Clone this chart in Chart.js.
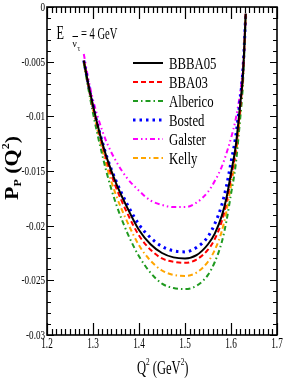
<!DOCTYPE html>
<html>
<head>
<meta charset="utf-8">
<script src="https://cdn.jsdelivr.net/npm/chart.js@4/dist/chart.umd.min.js"></script>
<style>
  body { margin: 0; background: #fff; }
  canvas { display: block; }
</style>
</head>
<body>
<canvas id="my-chart" width="284" height="382"></canvas>
<script>
// Q^2 points (GeV^2) and polarization values
const q2 = [1.28, 1.29, 1.30, 1.31, 1.32, 1.33, 1.35, 1.375, 1.40, 1.425, 1.45, 1.475,
  1.50, 1.525, 1.55, 1.565, 1.58, 1.59, 1.60, 1.61, 1.62, 1.625, 1.628, 1.632];

const bbba05 = [-0.0049, -0.0071, -0.0090, -0.0108, -0.0124, -0.0138, -0.0161, -0.0184, -0.0204, -0.0217, -0.0225, -0.0229,
  -0.0230, -0.0227, -0.0217, -0.0207, -0.0191, -0.0175, -0.0152, -0.0128, -0.0089, -0.0067, -0.0045, -0.0006];
const bba03 = [-0.0049, -0.0071, -0.0091, -0.0109, -0.0126, -0.0141, -0.0165, -0.0189, -0.0209, -0.0222, -0.0230, -0.0233,
  -0.0234, -0.0231, -0.0222, -0.0212, -0.0196, -0.0179, -0.0156, -0.0132, -0.0092, -0.0069, -0.0046, -0.0006];
const alberico = [-0.0051, -0.0075, -0.0097, -0.0117, -0.0135, -0.0152, -0.0180, -0.0207, -0.0228, -0.0243, -0.0253, -0.0257,
  -0.0258, -0.0255, -0.0245, -0.0233, -0.0215, -0.0196, -0.0171, -0.0145, -0.0102, -0.0077, -0.0051, -0.0006];
const bosted = [-0.0049, -0.0071, -0.0090, -0.0108, -0.0123, -0.0137, -0.0159, -0.0181, -0.0199, -0.0211, -0.0219, -0.0223,
  -0.0224, -0.0220, -0.0210, -0.0198, -0.0181, -0.0164, -0.0142, -0.0119, -0.0084, -0.0063, -0.0043, -0.0006];
const galster = [-0.0043, -0.0066, -0.0085, -0.0100, -0.0113, -0.0124, -0.0141, -0.0157, -0.0168, -0.0177, -0.0181, -0.0183,
  -0.0183, -0.0179, -0.0169, -0.0159, -0.0146, -0.0134, -0.0120, -0.0103, -0.0078, -0.0060, -0.0044, -0.0006];
const kelly = [-0.0050, -0.0073, -0.0094, -0.0113, -0.0130, -0.0146, -0.0172, -0.0197, -0.0218, -0.0232, -0.0241, -0.0245,
  -0.0246, -0.0243, -0.0233, -0.0222, -0.0205, -0.0187, -0.0163, -0.0138, -0.0097, -0.0073, -0.0048, -0.0006];

const seriesNames = ["BBBA05", "BBA03", "Alberico", "Bosted", "Galster", "Kelly"];
const xTicks = [1.2, 1.3, 1.4, 1.5, 1.6, 1.7];
const yTicks = [0, -0.005, -0.01, -0.015, -0.02, -0.025, -0.03];

const serif = "'Liberation Serif', 'Times New Roman', serif";
const SQ = 0.66; // the original figure's text is squeezed sideways

function pts(values) {
  return q2.map((q, i) => ({ x: q, y: values[i] }));
}

function squeezedText(ctx, text, x, y, size, opts = {}) {
  ctx.save();
  ctx.translate(x, y);
  ctx.scale(opts.sx || SQ, 1);
  ctx.font = (opts.bold ? "bold " : "") + size + "px " + serif;
  ctx.textAlign = opts.align || "left";
  ctx.textBaseline = opts.baseline || "alphabetic";
  ctx.fillStyle = "#000";
  ctx.fillText(text, 0, 0);
  const w = ctx.measureText(text).width * (opts.sx || SQ);
  ctx.restore();
  return w;
}

// frame, inward ticks, tick labels, titles, legend, annotation
const decorations = {
  id: "decorations",
  afterDatasetsDraw(chart) {
    const { ctx, chartArea: a, scales: { x, y } } = chart;
    ctx.save();
    ctx.strokeStyle = "#000";
    ctx.lineWidth = 1.2;
    for (let i = 0; i <= 50; i++) {
      const px = Math.round(x.getPixelForValue(1.2 + i * 0.01)) + 0.5;
      const len = i % 10 === 0 ? 12 : 6;
      ctx.beginPath();
      ctx.moveTo(px, a.bottom); ctx.lineTo(px, a.bottom - len);
      ctx.moveTo(px, a.top); ctx.lineTo(px, a.top + len);
      ctx.stroke();
    }
    for (let i = 0; i <= 30; i++) {
      const py = Math.round(y.getPixelForValue(-i * 0.001)) + 0.5;
      const len = i % 5 === 0 ? 7 : 4;
      ctx.beginPath();
      ctx.moveTo(a.left, py); ctx.lineTo(a.left + len, py);
      ctx.moveTo(a.right, py); ctx.lineTo(a.right - len, py);
      ctx.stroke();
    }
    ctx.lineWidth = 1.6;
    ctx.strokeRect(a.left, a.top, a.right - a.left, a.bottom - a.top);
    ctx.restore();

    // tick labels
    xTicks.forEach((v) => {
      squeezedText(ctx, v.toFixed(1), x.getPixelForValue(v), a.bottom + 13, 14, { align: "center" });
    });
    yTicks.forEach((v) => {
      const label = v === 0 ? "0" : String(parseFloat(v.toFixed(3)));
      squeezedText(ctx, label, a.left - 2, y.getPixelForValue(v) + 4, 13, { align: "right", sx: 0.7 });
    });

    // x title: Q^2 (GeV^2)
    let cx = 137;
    const base = 374;
    cx += squeezedText(ctx, "Q", cx, base, 19);
    cx += squeezedText(ctx, "2", cx, base - 9, 11);
    cx += squeezedText(ctx, " (GeV", cx, base, 19);
    cx += squeezedText(ctx, "2", cx, base - 9, 11);
    squeezedText(ctx, ")", cx, base, 19);

    // y title: P_P (Q^2), rotated
    ctx.save();
    ctx.translate(18, (a.top + a.bottom) / 2 - 3);
    ctx.rotate(-Math.PI / 2);
    ctx.fillStyle = "#000";
    ctx.textBaseline = "alphabetic";
    const parts = [["P", 22, 0], ["P", 12, 3], [" (Q", 22, 0], ["2", 12, -10], [")", 22, 0]];
    let total = 0;
    parts.forEach(([t, s]) => { ctx.font = "bold " + s + "px " + serif; total += ctx.measureText(t).width; });
    let lx = -total / 2;
    ctx.scale(1, 0.9);
    parts.forEach(([t, s, dy]) => {
      ctx.font = "bold " + s + "px " + serif;
      ctx.fillText(t, lx, dy);
      lx += ctx.measureText(t).width;
    });
    ctx.restore();

    // legend
    chart.data.datasets.forEach((ds, i) => {
      const ly = 63 + i * 19;
      ctx.save();
      ctx.strokeStyle = ds.borderColor;
      ctx.lineWidth = ds.borderWidth;
      ctx.setLineDash(ds.borderDash || []);
      ctx.beginPath();
      ctx.moveTo(133, ly); ctx.lineTo(163, ly);
      ctx.stroke();
      ctx.restore();
      squeezedText(ctx, ds.label, 169, ly + 6, 17, { sx: 0.75 });
    });

    // annotation: E_(anti nu_tau) = 4 GeV
    squeezedText(ctx, "E", 56.5, 39, 18, { sx: 0.68 });
    squeezedText(ctx, "\u03bd", 72.5, 47, 11, { sx: 0.85 });
    ctx.save();
    ctx.strokeStyle = "#000";
    ctx.lineWidth = 1;
    ctx.beginPath(); ctx.moveTo(72.5, 36.5); ctx.lineTo(78, 36.5); ctx.stroke();
    ctx.restore();
    squeezedText(ctx, "\u03c4", 77.5, 51, 8, { sx: 0.85 });
    squeezedText(ctx, "= 4 GeV", 81, 39, 17, { sx: 0.62 });
  }
};

function makeDataset(label, values, color, dash, width) {
  return {
    label: label,
    data: pts(values),
    borderColor: color,
    borderWidth: width,
    borderDash: dash,
    pointRadius: 0,
    fill: false,
    cubicInterpolationMode: "monotone"
  };
}

const ctx = document.getElementById("my-chart").getContext("2d");
const chart = new Chart(ctx, {
  type: "line",
  data: {
    datasets: [
      makeDataset(seriesNames[0], bbba05, "#000000", [], 2),
      makeDataset(seriesNames[1], bba03, "#ff0000", [5, 3], 2),
      makeDataset(seriesNames[2], alberico, "#1f9a1f", [5, 3, 1.5, 3], 2),
      makeDataset(seriesNames[3], bosted, "#0000ff", [2.5, 4], 3),
      makeDataset(seriesNames[4], galster, "#ff00ff", [5, 3, 1.5, 3, 1.5, 3], 2),
      makeDataset(seriesNames[5], kelly, "#ffa500", [5, 3, 5, 3, 1.5, 3], 2)
    ]
  },
  options: {
    responsive: false,
    animation: false,
    devicePixelRatio: 1,
    layout: { padding: { left: 0, top: 7, right: 7, bottom: 0 } },
    plugins: {
      legend: { display: false },
      tooltip: { enabled: false }
    },
    scales: {
      x: {
        type: "linear",
        min: 1.2,
        max: 1.7,
        ticks: { display: false, stepSize: 0.1 },
        grid: { display: false },
        border: { display: false },
        afterFit: (scale) => { scale.height = 47; }
      },
      y: {
        type: "linear",
        min: -0.03,
        max: 0,
        ticks: { display: false, stepSize: 0.005 },
        grid: { display: false },
        border: { display: false },
        afterFit: (scale) => { scale.width = 47; }
      }
    }
  },
  plugins: [decorations]
});
</script>
</body>
</html>
